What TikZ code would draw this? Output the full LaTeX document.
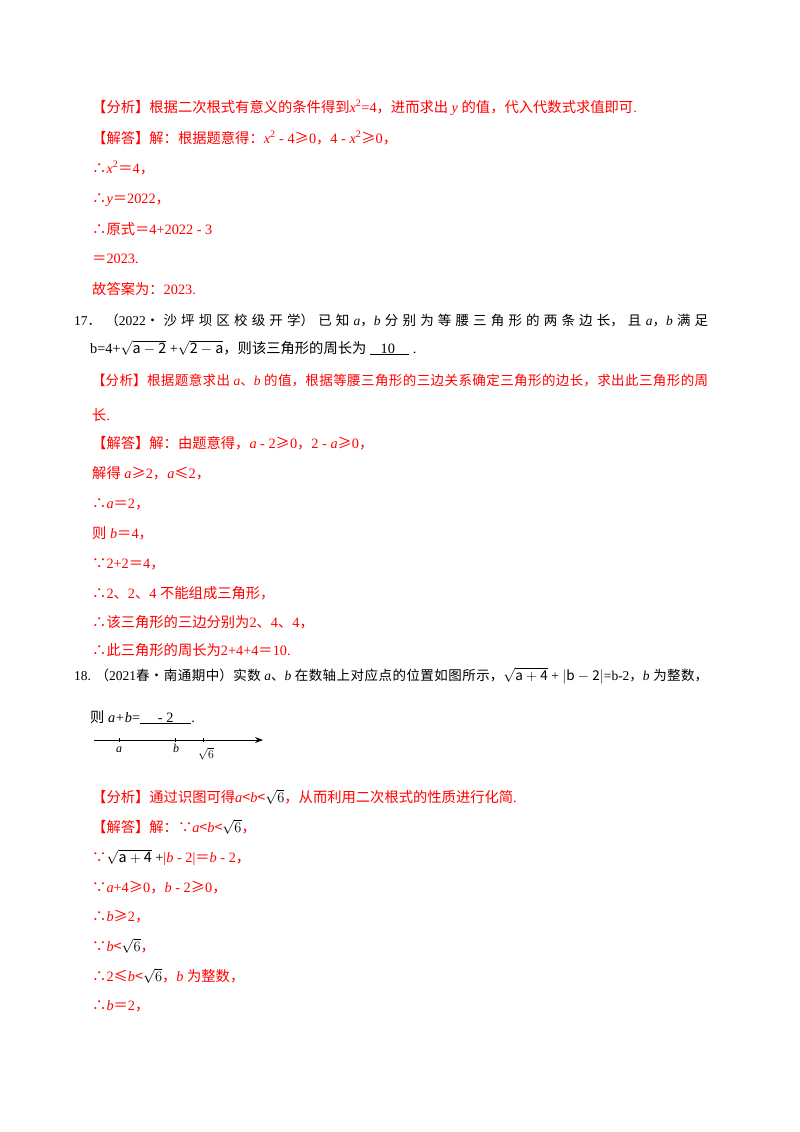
\documentclass[tikz,border=0pt]{standalone}
\usepackage{fontspec}
\setmainfont{Noto Sans CJK SC}
\newfontfamily\lat{Liberation Serif}
\usetikzlibrary{arrows.meta}
\definecolor{ansred}{RGB}{255,0,0}
\newcommand{\nm}[1]{{\lat #1}}
\newcommand{\vi}[1]{{\lat\itshape #1}}
\newcommand{\jst}[2]{\parbox[b]{#1}{\noindent\parfillskip=0pt\XeTeXlinebreaklocale "zh"\XeTeXlinebreakskip=0pt plus 5pt\relax #2\par}}
\begin{document}
\begin{tikzpicture}[x=1pt,y=-1pt,
  txt/.style={anchor=base west,inner sep=0pt,font=\fontsize{14.3}{17}\selectfont},
  rd/.style={txt,text=ansred},
  bk/.style={txt,text=black},
  narrow/.style={font=\fontsize{13.5}{16}\selectfont},
  lbl/.style={inner sep=0pt,font=\fontsize{12}{14}\selectfont}]
\useasboundingbox[fill=white] (0,0) rectangle (800,1132);
\node[rd] (l1) at (92,112) {【分析】根据二次根式有意义的条件得到\vi{x}\nm{\textsuperscript{2}=4}，进而求出\vi{ y }的值，代入代数式求值即可\nm{.}};
\node[rd] (l2) at (92,143) {【解答】解：根据题意得：\vi{x}\nm{\textsuperscript{2} - 4}≥\nm{0}，\nm{4 - }\vi{x}\nm{\textsuperscript{2}}≥\nm{0}，};
\node[rd] (l3) at (92,173) {∴\vi{x}\nm{\textsuperscript{2}}＝\nm{4}，};
\node[rd] (l4) at (92,203) {∴\vi{y}＝\nm{2022}，};
\node[rd] (l5) at (92,234) {∴原式＝\nm{4+2022 - 3}};
\node[rd] (l6) at (92,263) {＝\nm{2023.}};
\node[rd] (l7) at (92,294) {故答案为：\nm{2023.}};
\node[bk,narrow] (l8) at (74,325) {\jst{634pt}{\nm{17}．（\nm{2022}•沙坪坝区校级开学）已知 \vi{a}，\vi{b} 分别为等腰三角形的两条边长，且 \vi{a}，\vi{b} 满足}};
\node[bk] (l9) at (90,353) {\nm{b=4+}$\sqrt{\mathrm{a-2}}$\nm{ +}$\sqrt{\mathrm{2-a}}$，则该三角形的周长为\nm{\ \underline{\ \ \ 10\ \ \ \ }\ .}};
\node[rd,narrow] (l10) at (92,385) {\jst{616pt}{【分析】根据题意求出\vi{ a}、\vi{b }的值，根据等腰三角形的三边关系确定三角形的边长，求出此三角形的周}};
\node[rd] (l11) at (92,420) {长\nm{.}};
\node[rd] (l12) at (92,448) {【解答】解：由题意得，\vi{a}\nm{ - 2}≥\nm{0}，\nm{2 - }\vi{a}≥\nm{0}，};
\node[rd] (l13) at (92,478) {解得\vi{ a}≥\nm{2}，\vi{a}≤\nm{2}，};
\node[rd] (l14) at (92,508) {∴\vi{a}＝\nm{2}，};
\node[rd] (l15) at (92,538) {则\vi{ b}＝\nm{4}，};
\node[rd] (l16) at (92,568) {∵\nm{2+2}＝\nm{4}，};
\node[rd] (l17) at (92,598) {∴\nm{2}、\nm{2}、\nm{4 }不能组成三角形，};
\node[rd] (l18) at (92,627) {∴该三角形的三边分别为\nm{2}、\nm{4}、\nm{4}，};
\node[rd] (l19) at (92,655) {∴此三角形的周长为\nm{2+4+4}＝\nm{10.}};
\node[bk,narrow] (l20) at (74,680) {\jst{634pt}{\nm{18.} （\nm{2021}春•南通期中）实数\vi{ a}、\vi{b }在数轴上对应点的位置如图所示，$\sqrt{\mathrm{a+4}}$\nm{ + }$|\mathrm{b-2}|$\nm{=b-2}，\vi{b }为整数，}};
\node[bk] (l21) at (90,722) {则\vi{ a+b}\nm{=\underline{\ \ \ \ \ - 2\ \ \ \ \ }.}};
% number line
\coordinate (ns) at (94,740);
\coordinate (ne) at (263,740);
\draw[line width=0.8pt,-{Stealth[length=8pt,width=6pt]}] (ns) -- (ne);
\draw[line width=0.8pt] (119,738) -- (119,742) (175,738) -- (175,742) (203,738) -- (203,742);
\node[lbl] (la) at (119,750) {\vi{a}};
\node[lbl] (lb) at (176,748) {\vi{b}};
\node[lbl] (lc) at (206,754) {$\sqrt{6}$};
\node[rd] (l22) at (92,802) {【分析】通过识图可得\vi{a}<\vi{b}<{\color{black}$\sqrt{6}$}，从而利用二次根式的性质进行化简\nm{.}};
\node[rd] (l23) at (92,832) {【解答】解：∵\vi{a}<\vi{b}<{\color{black}$\sqrt{6}$}，};
\node[rd] (l24) at (92,862) {∵{\color{black}$\sqrt{\mathrm{a+4}}$\nm{ +}}\nm{|}\vi{b}\nm{ - 2|}＝\vi{b}\nm{ - 2}，};
\node[rd] (l25) at (92,892) {∵\vi{a}\nm{+4}≥\nm{0}，\vi{b}\nm{ - 2}≥\nm{0}，};
\node[rd] (l26) at (92,921) {∴\vi{b}≥\nm{2}，};
\node[rd] (l27) at (92,951) {∵\vi{b}<{\color{black}$\sqrt{6}$}，};
\node[rd] (l28) at (92,981) {∴\nm{2}≤\vi{b}<{\color{black}$\sqrt{6}$}，\vi{b }为整数，};
\node[rd] (l29) at (92,1010) {∴\vi{b}＝\nm{2}，};
\end{tikzpicture}
\end{document}
